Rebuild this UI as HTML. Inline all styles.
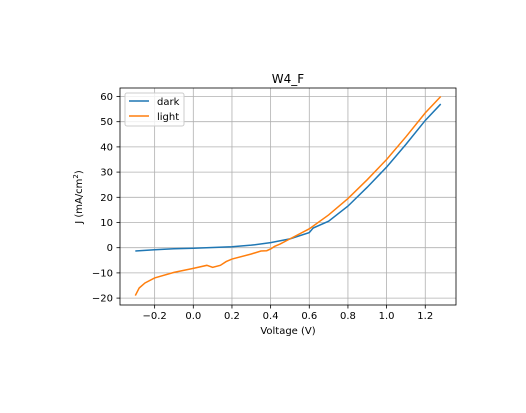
<!DOCTYPE html>
<html><head><meta charset="utf-8"><style>
body{margin:0;background:#fff;font-family:"Liberation Sans","DejaVu Sans",sans-serif;}
text{font-family:"DejaVu Sans","Liberation Sans",sans-serif;font-size:10px;fill:#000}
</style></head><body>
<svg id="chart" width="526" height="408">
<rect width="526" height="408" fill="#fff"/>
<g id="grid"></g>
<g id="series"></g>
<rect x="120" y="88" width="336" height="217" fill="none" stroke="#000" stroke-width="0.8"/>
<g id="ticks"></g>
<text x="288" y="83" text-anchor="middle" style="font-size:12px">W4_F</text>
<text x="288" y="334" text-anchor="middle">Voltage (V)</text>
<text transform="translate(82,197) rotate(-90)" text-anchor="middle">J (mA/cm<tspan dy="-4" style="font-size:7px">2</tspan><tspan dy="4">)</tspan></text>
<g>
<rect x="125" y="93" width="59" height="33" rx="2" fill="#fff" fill-opacity="0.8" stroke="#ccc"/>
<line x1="129" y1="101" x2="149" y2="101" stroke="#1f77b4" stroke-width="1.5"/>
<text x="157" y="105">dark</text>
<line x1="129" y1="116" x2="149" y2="116" stroke="#ff7f0e" stroke-width="1.5"/>
<text x="157" y="120">light</text>
</g>
</svg>
<script>
const xTicks=[-0.2,0,0.2,0.4,0.6,0.8,1.0,1.2];
const xTickLabels=["−0.2","0.0","0.2","0.4","0.6","0.8","1.0","1.2"];
const yTicks=[-20,-10,0,10,20,30,40,50,60];
const darkV=[-0.3,-0.2,-0.1,0,0.1,0.2,0.3,0.4,0.5,0.6,0.62,0.7,0.8,0.9,1.0,1.1,1.2,1.28];
const darkJ=[-1.3,-0.8,-0.4,-0.2,0.1,0.4,1.0,2.0,3.5,6,7.8,10.5,16.5,24,32,41,50.5,57];
const lightV=[-0.3,-0.28,-0.25,-0.2,-0.1,0,0.07,0.1,0.14,0.17,0.2,0.3,0.35,0.38,0.4,0.42,0.45,0.5,0.6,0.7,0.8,0.9,1.0,1.1,1.2,1.28];
const lightJ=[-19,-16,-14,-12,-9.8,-8.2,-7,-7.8,-7,-5.5,-4.5,-2.5,-1.3,-1.2,-0.5,0.5,1.5,3.5,7.5,13,19.5,27,35,44,53.5,60];
const NS="http://www.w3.org/2000/svg";
const X=v=>193.3+v*193.3;
const Y=v=>247.7-v*2.52;
function mk(t,a,p){const e=document.createElementNS(NS,t);for(const k in a)e.setAttribute(k,a[k]);p.appendChild(e);return e;}
const grid=document.getElementById('grid'),ticks=document.getElementById('ticks'),series=document.getElementById('series');
xTicks.forEach((v,i)=>{
const g=mk('line',{x1:X(v),x2:X(v),y1:88,y2:305,stroke:'#b0b0b0','stroke-width':0.8},grid);


const t=mk('line',{x1:X(v),x2:X(v),y1:305,y2:308.5,stroke:'#000','stroke-width':0.8},ticks);


const l=mk('text',{x:X(v),y:319,'text-anchor':'middle'},ticks);l.textContent=xTickLabels[i];


});
yTicks.forEach(v=>{
const g=mk('line',{x1:120,x2:456,y1:Y(v),y2:Y(v),stroke:'#b0b0b0','stroke-width':0.8},grid);


const t=mk('line',{x1:116.5,x2:120,y1:Y(v),y2:Y(v),stroke:'#000','stroke-width':0.8},ticks);


const l=mk('text',{x:113,y:Y(v)+3.5,'text-anchor':'end'},ticks);l.textContent=v<0?'−'+(-v):String(v);


});
function line(vs,js,c,name){
const p=mk('polyline',{points:vs.map((v,i)=>X(v)+','+Y(js[i])).join(' '),fill:'none',stroke:c,'stroke-width':1.5},series);


}
line(darkV,darkJ,'#1f77b4','dark-line');
line(lightV,lightJ,'#ff7f0e','light-line');
</script>
</body></html>
